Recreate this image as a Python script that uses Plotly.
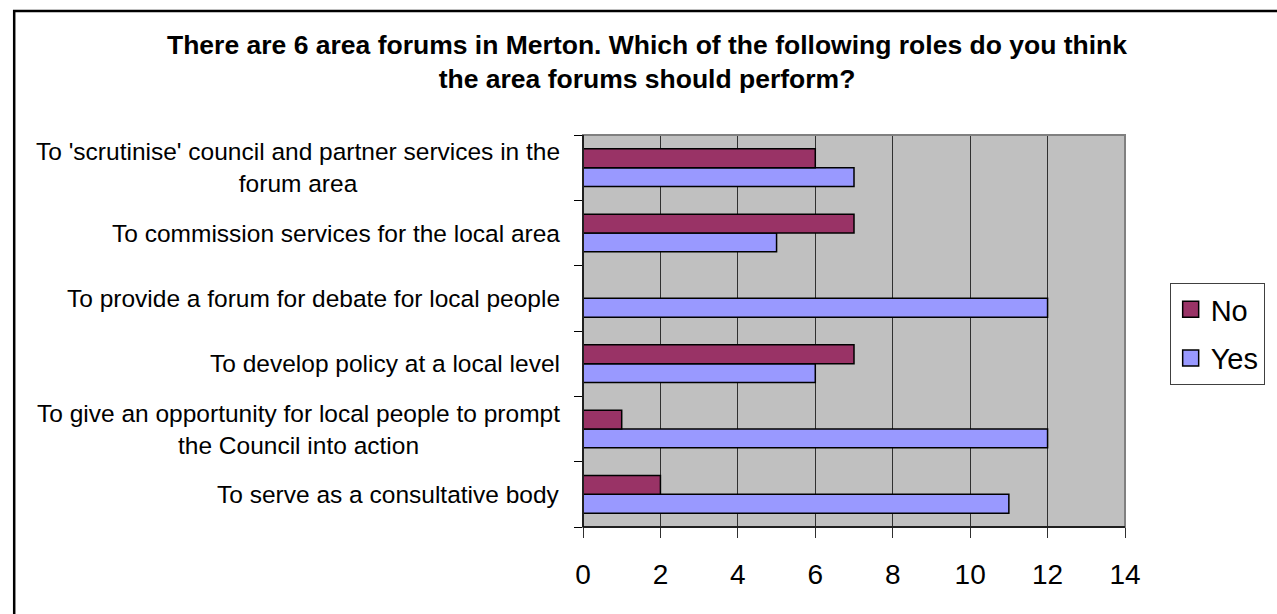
import plotly.graph_objects as go

# Survey roles, listed bottom-to-top as they appear on the category axis
roles = [
    "To serve as a consultative body",
    "To give an opportunity for local people to prompt<br>the Council into action",
    "To develop policy at a local level",
    "To provide a forum for debate for local people",
    "To commission services for the local area",
    "To 'scrutinise' council and partner services in the<br>forum area",
]
yes_counts = [11, 12, 6, 12, 5, 7]
no_counts = [2, 1, 7, 0, 7, 6]
x_ticks = [0, 2, 4, 6, 8, 10, 12, 14]

YES_COLOR = "#9999FF"
NO_COLOR = "#993366"

W, H = 1277, 614
L, R, T, B = 583, 1129, 135, 527  # plot area in pixels
pw, ph = R - L, B - T

def px_x(p):
    return (p - L) / pw

def px_y(p):
    return (B - p) / ph

FONT = "Arial, Liberation Sans, sans-serif"

fig = go.Figure()
fig.add_trace(go.Bar(
    y=roles, x=yes_counts, name="Yes", orientation="h", showlegend=False,
    marker=dict(color=YES_COLOR, line=dict(color="black", width=1.5)),
))
fig.add_trace(go.Bar(
    y=roles, x=no_counts, name="No", orientation="h", showlegend=False,
    marker=dict(color=NO_COLOR, line=dict(color="black", width=1.5)),
))

# Legend entries with larger square swatches
for name, color in [("No", NO_COLOR), ("Yes", YES_COLOR)]:
    fig.add_trace(go.Scatter(
        x=[None], y=[None], mode="markers", name=name, legendgroup=name,
        marker=dict(symbol="square", size=16, color=color,
                    line=dict(color="black", width=1.5)),
    ))

# Category labels, centred line-by-line and right-aligned against the axis
annotations = []
for r in roles:
    annotations.append(dict(
        x=px_x(562), xref="paper", xanchor="right",
        y=r, yref="y", yanchor="middle",
        text=r, showarrow=False, align="center",
        font=dict(family=FONT, size=24.5, color="black"),
    ))

annotations.append(dict(
    x=px_x(647), xref="paper", xanchor="center",
    y=px_y(62), yref="paper", yanchor="middle",
    text="<b>There are 6 area forums in Merton. Which of the following roles do you think<br>the area forums should perform?</b>",
    showarrow=False, align="center",
    font=dict(family=FONT, size=26.5, color="black"),
))

shapes = [
    # outer chart border (runs off the right and bottom edges)
    dict(type="rect", xref="paper", yref="paper",
         x0=px_x(10), x1=px_x(1300), y0=px_y(640), y1=px_y(11),
         line=dict(color="black", width=2.5), fillcolor="rgba(0,0,0,0)", layer="above"),
    # plot frame (top/right in grey)
    dict(type="rect", xref="paper", yref="paper", x0=0, x1=1, y0=0, y1=1,
         line=dict(color="#808080", width=2), fillcolor="rgba(0,0,0,0)", layer="above"),
    dict(type="line", xref="paper", yref="paper", x0=0, x1=0, y0=0, y1=1,
         line=dict(color="black", width=1.5), layer="above"),
    dict(type="line", xref="paper", yref="paper", x0=0, x1=1, y0=0, y1=0,
         line=dict(color="black", width=1.5), layer="above"),
]

fig.update_layout(
    width=W, height=H,
    margin=dict(l=L, r=W - R, t=T, b=H - B, pad=0),
    paper_bgcolor="white", plot_bgcolor="#C0C0C0",
    barmode="group", bargap=0.424, bargroupgap=0,
    font=dict(family=FONT, color="black"),
    showlegend=True,
    legend=dict(
        x=px_x(1174), y=px_y(283), xanchor="left", yanchor="top",
        traceorder="grouped", bgcolor="white",
        bordercolor="#404040", borderwidth=1,
        font=dict(family=FONT, size=29, color="black"),
        itemsizing="trace", itemwidth=30, tracegroupgap=8,
    ),
    annotations=annotations,
    shapes=shapes,
)

fig.update_xaxes(
    range=[0, 14], tickvals=x_ticks, ticktext=[str(v) for v in x_ticks],
    showgrid=True, gridcolor="#303030", gridwidth=1,
    zeroline=False, showline=False,
    ticks="outside", ticklen=10, tickcolor="#303030", tickwidth=1,
    tickfont=dict(family=FONT, size=28, color="black"),
    ticklabelstandoff=12,
)
fig.update_yaxes(
    categoryorder="array", categoryarray=roles,
    showticklabels=False, showgrid=False, zeroline=False, showline=False,
    ticks="outside", ticklen=8, tickcolor="black", tickwidth=1,
    tickson="boundaries",
)

fig.write_html("out.html")
